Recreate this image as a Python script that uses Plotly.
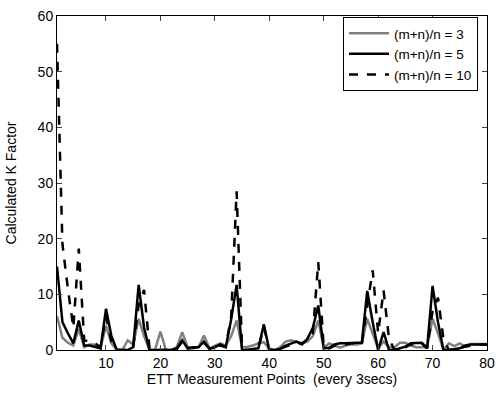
import plotly.graph_objects as go

x_points = list(range(1, 81))

k_ratio3 = [6.1, 2.2, 1.3, 0.8, 3.8, 0.5, 1.0, 1.0, 0.3, 4.4,
            1.2, 0, 0, 1.75, 1.0, 5.6, 2.5, 0, 0, 3.3,
            0, 0, 0.5, 3.2, 0.5, 0.3, 0.5, 2.6, 0.3, 0.8,
            1.2, 0.8, 2.5, 5.3, 0.5, 0.6, 0.8, 1.2, 1.4, 0.3,
            0, 0.5, 1.5, 1.75, 1.5, 1.2, 1.5, 2.5, 5.3, 0.4,
            1.2, 0.8, 0.4, 0.8, 1.0, 1.0, 1.2, 5.6, 3.0, 0.3,
            1.5, 0.5, 0.5, 1.3, 1.3, 0.8, 0.5, 0.5, 0.5, 5.6,
            3.0, 0, 1.2, 0.7, 1.2, 0.6, 1.1, 1.1, 1.1, 1.1]

k_ratio5 = [15, 5, 3, 1.2, 5.3, 0.8, 0.8, 0.6, 0.3, 7.4,
            2.5, 0, 0, 0, 0.5, 11.7, 4, 0, 0, 0,
            0, 0, 0.3, 1.75, 0.3, 0.5, 0.5, 1.5, 0.2, 0.5,
            1.0, 0.5, 5.5, 11.7, 0, 0, 0.2, 0.3, 4.6, 0,
            0, 0.2, 0.8, 1.2, 1.5, 1.0, 2.0, 4.0, 8.0, 0.3,
            0.4, 1.0, 1.2, 1.2, 1.3, 1.3, 1.3, 10.6, 5.0, 0,
            3.2, 0, 0, 0.3, 0.6, 1.2, 1.2, 1.3, 0.4, 11.5,
            5.0, 0, 0, 0.2, 0.3, 0.8, 1.0, 1.0, 1.0, 1.0]

k_ratio10 = [55, 19, 11, 4, 18.2, 1.7, 1.6, 1.2, 0.5, 6,
             1.5, 0, 0, 0, 0.5, 8, 10.8, 0.3, 0, 0,
             0, 0, 0.2, 1.5, 0.3, 0.4, 0.5, 1.3, 0.3, 0.6,
             0.8, 0.5, 6, 28.5, 0.2, 0, 0.2, 0.3, 4.2, 0,
             0, 0.2, 0.6, 1.0, 1.3, 1.2, 1.8, 3, 15.8, 0.5,
             0.3, 0.8, 1.0, 1.0, 1.2, 1.2, 1.0, 8, 14.3, 3,
             10.7, 2, 0, 0.3, 0.5, 1.0, 1.0, 1.2, 0.3, 7,
             9.4, 2, 0, 0.2, 0.3, 0.6, 0.8, 0.9, 1.0, 1.0]

series_names = ["(m+n)/n = 3", "(m+n)/n = 5", "(m+n)/n = 10"]
x_ticks = [10, 20, 30, 40, 50, 60, 70, 80]
y_ticks = [0, 10, 20, 30, 40, 50, 60]

fig = go.Figure()
fig.add_trace(go.Scatter(x=x_points, y=k_ratio3, mode="lines", name=series_names[0],
                         line=dict(color="#808080", width=2.5)))
fig.add_trace(go.Scatter(x=x_points, y=k_ratio5, mode="lines", name=series_names[1],
                         line=dict(color="#000000", width=2.5)))
fig.add_trace(go.Scatter(x=x_points, y=k_ratio10, mode="lines", name=series_names[2],
                         line=dict(color="#000000", width=2.5, dash="dash")))

font_family = "Liberation Sans, Arial, Helvetica, sans-serif"
fig.update_layout(
    width=503, height=396,
    margin=dict(l=57, r=12, t=8, b=46),
    plot_bgcolor="white", paper_bgcolor="white",
    font=dict(family=font_family, size=14, color="black"),
    showlegend=True,
    legend=dict(x=0.979, y=0.997, xanchor="right", yanchor="top",
                bgcolor="white", bordercolor="black", borderwidth=1,
                font=dict(size=13.5), tracegroupgap=0, itemwidth=40),
    xaxis=dict(range=[1, 80], tickvals=x_ticks, ticks="inside", ticklen=5,
               showline=True, linecolor="black", linewidth=1, mirror="ticks",
               showgrid=False, zeroline=False,
               title=dict(text="ETT Measurement Points  (every 3secs)", standoff=2,
                          font=dict(size=14))),
    yaxis=dict(range=[0, 60], tickvals=y_ticks, ticks="inside", ticklen=5,
               showline=True, linecolor="black", linewidth=1, mirror="ticks",
               showgrid=False, zeroline=False,
               title=dict(text="Calculated K Factor", standoff=17,
                          font=dict(size=14))),
)

fig.write_html("out.html")
